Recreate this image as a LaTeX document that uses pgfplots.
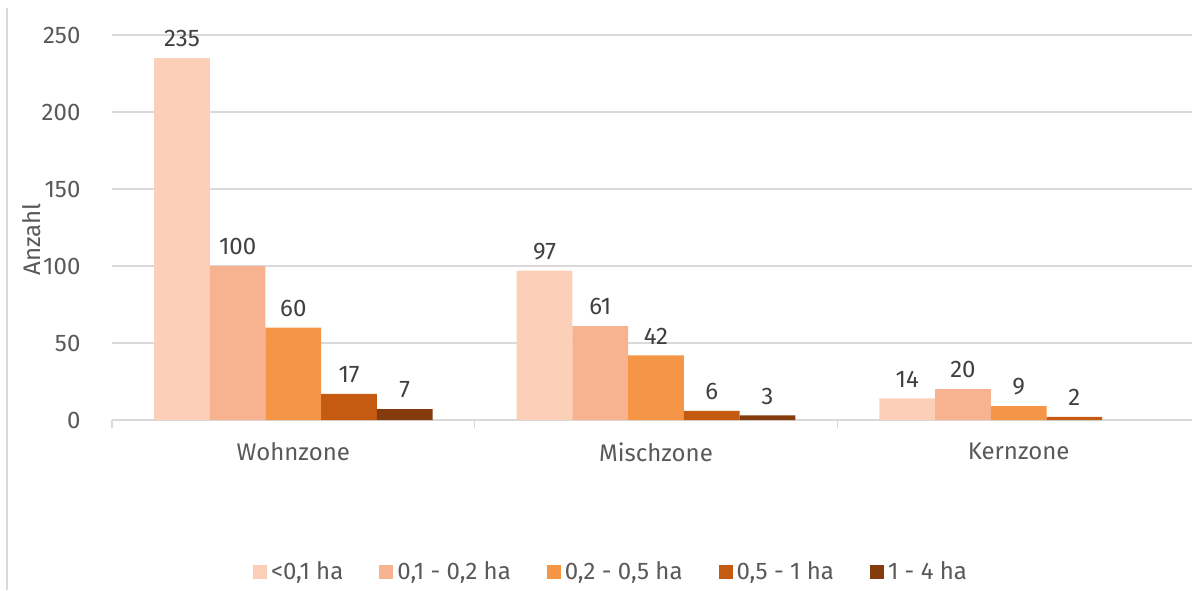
\documentclass[border=0pt]{standalone}
\usepackage{fontspec}
\setmainfont{Fira Sans}
\usepackage{pgfplots}
\pgfplotsset{compat=1.18}
\pgfkeys{/pgf/number format/assume math mode=true}
\definecolor{cA}{HTML}{FBCFB8}
\definecolor{cB}{HTML}{F7B38F}
\definecolor{cC}{HTML}{F59646}
\definecolor{cD}{HTML}{C55A11}
\definecolor{cE}{HTML}{843C0C}
\definecolor{grid}{HTML}{D9D9D9}
\definecolor{txt}{HTML}{595959}
\definecolor{lbl}{HTML}{404040}
\newcommand{\fsz}{\fontsize{12}{14}\selectfont}
\begin{document}
\begin{tikzpicture}
\useasboundingbox (0,0) rectangle (596pt,295pt);
\draw[grid, line width=0.6pt] (3.5pt,0) -- (3.5pt,291pt);
\begin{axis}[
  at={(56pt,85pt)}, anchor=south west,
  scale only axis, width=540pt, height=192.5pt,
  xmin=-0.5, xmax=2.478, ymin=0, ymax=250,
  ybar=0pt, bar width=27.85pt,
  axis lines*=left,
  y axis line style={draw=none},
  x axis line style={draw=grid, line width=0.8pt},
  ymajorgrids, major grid style={draw=grid, line width=0.6pt},
  ytick={0,50,100,150,200,250},
  ytick style={draw=none},
  xtick={0,1,2}, xticklabels={Wohnzone,Mischzone,Kernzone},
  xtick style={draw=none},
  minor xtick={-0.5,0.5,1.5,2.5},
  minor tick length=4pt, tick align=outside,
  minor x tick style={draw=grid, line width=0.8pt},
  tick label style={font=\fsz, text=txt},
  yticklabel style={xshift=-8pt, /pgf/number format/assume math mode=true},
  xticklabel style={yshift=-3.5pt},
  ylabel={Anzahl},
  every axis y label/.style={at={(axis description cs:-0.074,0.47)}, rotate=90, anchor=center, font=\fsz, text=txt},
  nodes near coords,
  every node near coord/.append style={font=\fsz, text=lbl, yshift=2pt, /pgf/number format/assume math mode=true},
  clip=false,
  legend columns=5,
  legend style={draw=none, fill=none, font=\fsz, text=txt,
    at={(axis description cs:0.463,-0.395)}, anchor=center,
    /tikz/every even column/.append style={column sep=16pt}},
  legend image code/.code={\fill[#1, draw=none] (0pt,-3.5pt) rectangle (7pt,3.5pt);},
]
\addplot[fill=cA, draw=none] coordinates {(0,235) (1,97) (2,14)};
\addplot[fill=cB, draw=none] coordinates {(0,100) (1,61) (2,20)};
\addplot[fill=cC, draw=none] coordinates {(0,60) (1,42) (2,9)};
\addplot[fill=cD, draw=none] coordinates {(0,17) (1,6) (2,2)};
\addplot[fill=cE, draw=none] coordinates {(0,7) (1,3)};
\legend{{<0,1 ha},{0,1 - 0,2 ha},{0,2 - 0,5 ha},{0,5 - 1 ha},{1 - 4 ha}}
\end{axis}
\end{tikzpicture}
\end{document}
